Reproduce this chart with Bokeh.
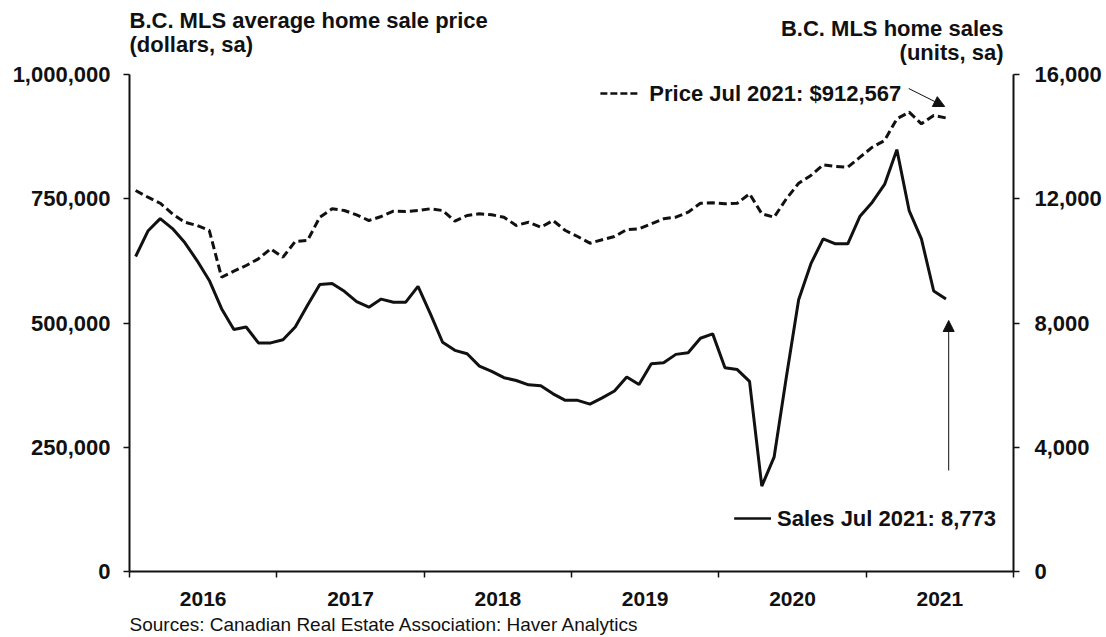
from bokeh.plotting import figure
from bokeh.models import (Range1d, LinearAxis, FixedTicker, NumeralTickFormatter,
                          Label, Arrow, NormalHead, Title)
from bokeh.embed import file_html
from bokeh.resources import INLINE

# ---- data (monthly, Jan 2016 .. Jul 2021) ----
start_year = 2016
n_months = 67
price = [766600, 753100, 741000, 719700, 702800, 696200, 686100, 592100, 604200, 615700, 629100, 649300,
         632400, 664000, 666000, 712900, 729800, 726300, 717700, 706200, 714300, 724900, 724300, 726300,
         729800, 726300, 704800, 716300, 719700, 717700, 712900, 696200, 702800, 692700, 706200, 686100,
         674000, 660600, 667400, 674000, 688100, 689500, 699600, 709700, 712900, 723000, 741000, 741900,
         739800, 741000, 759900, 719700, 712900, 749900, 781200, 796800, 818300, 814900, 813500, 833600,
         853700, 867200, 910800, 924200, 900800, 917500, 912567]
sales = [10140, 10960, 11360, 11040, 10590, 10010, 9370, 8460, 7790, 7870, 7360, 7360,
         7460, 7870, 8570, 9240, 9270, 9020, 8690, 8510, 8770, 8670, 8670, 9180,
         8300, 7380, 7120, 7010, 6610, 6440, 6240, 6150, 6010, 5980, 5720, 5510,
         5510, 5390, 5590, 5810, 6260, 6020, 6690, 6720, 6990, 7040, 7510, 7650,
         6560, 6500, 6120, 2750, 3680, 6260, 8750, 9910, 10710, 10550, 10550, 11440,
         11890, 12460, 13580, 11620, 10710, 9030, 8773]
years = ["2016", "2017", "2018", "2019", "2020", "2021"]
price_ticks = [0, 250000, 500000, 750000, 1000000]
sales_ticks = [0, 4000, 8000, 12000, 16000]
price_max = 1000000
sales_max = 16000

# x position: mid-month in fractional years
x = [start_year + (i + 0.5) / 12 for i in range(n_months)]

FONT = "Liberation Sans"
INK = "#111111"

# layout (pixels): frame spans from y=4 to y=571; value axes occupy 74..571
TOP_BORDER = 4
AXIS_TOP = 74
AXIS_BOTTOM = 571
H = 637
W = 1104
stretch = (AXIS_BOTTOM - TOP_BORDER) / (AXIS_BOTTOM - AXIS_TOP)

p = figure(width=W, height=H, output_backend="svg", toolbar_location=None,
           x_range=Range1d(2016, 2022), y_range=Range1d(0, price_max * stretch),
           min_border_left=129, min_border_right=W - 1015, min_border_top=TOP_BORDER,
           min_border_bottom=H - AXIS_BOTTOM)
p.outline_line_color = None
p.xgrid.visible = False
p.ygrid.visible = False
p.background_fill_color = "white"
p.border_fill_color = "white"

p.extra_y_ranges = {"sales": Range1d(0, sales_max * stretch)}

# lines
p.line(x, price, line_color=INK, line_width=3, line_dash="8 4")
p.line(x, sales, line_color=INK, line_width=3, y_range_name="sales")

# x axis
xa = p.xaxis[0]
mids = [int(y) + 0.5 for y in years]
xa.ticker = FixedTicker(ticks=mids, minor_ticks=[int(years[0]) + k for k in range(len(years) + 1)])
xa.major_label_overrides = {m: y for m, y in zip(mids, years)}
xa.major_tick_out = 0
xa.major_tick_in = 0
xa.minor_tick_out = 6
xa.minor_tick_in = 0
xa.minor_tick_line_width = 1.5
xa.minor_tick_line_color = INK
xa.axis_line_width = 2
xa.axis_line_color = INK
xa.major_label_standoff = 14
xa.major_label_text_font = FONT
xa.major_label_text_font_style = "bold"
xa.major_label_text_font_size = "21px"
xa.major_label_text_color = INK

# left axis
ya = p.yaxis[0]
ya.ticker = FixedTicker(ticks=price_ticks)
ya.bounds = (0, price_max)
ya.formatter = NumeralTickFormatter(format="0,0")
ya.minor_tick_line_color = None
ya.major_tick_out = 6
ya.major_tick_in = 0
ya.major_tick_line_width = 1.5
ya.major_tick_line_color = INK
ya.axis_line_width = 2
ya.axis_line_color = INK
ya.major_label_standoff = 13
ya.major_label_text_font = FONT
ya.major_label_text_font_style = "bold"
ya.major_label_text_font_size = "22px"
ya.major_label_text_color = INK

# right axis
ra = LinearAxis(y_range_name="sales", ticker=FixedTicker(ticks=sales_ticks),
                formatter=NumeralTickFormatter(format="0,0"), bounds=(0, sales_max))
ra.minor_tick_line_color = None
ra.major_tick_out = 6
ra.major_tick_in = 0
ra.major_tick_line_width = 1.5
ra.major_tick_line_color = INK
ra.axis_line_width = 2
ra.axis_line_color = INK
ra.major_label_standoff = 15
ra.major_label_text_font = FONT
ra.major_label_text_font_style = "bold"
ra.major_label_text_font_size = "22px"
ra.major_label_text_color = INK
p.add_layout(ra, "right")

# source line below the x axis
p.add_layout(Title(text="Sources: Canadian Real Estate Association: Haver Analytics",
                   align="left", text_font=FONT, text_font_style="normal",
                   text_font_size="19px", text_color=INK, standoff=6), "below")

def lab(txt, xx, yy, align="left", bold=True, size="22px"):
    p.add_layout(Label(x=xx, y=yy, text=txt, text_align=align, text_baseline="middle",
                       text_font=FONT, text_font_style="bold" if bold else "normal",
                       text_font_size=size, text_color=INK))

# axis titles (inside the stretched frame, above the value-axis tops)
lab("B.C. MLS average home sale price", 2016.0, 1108600)
lab("(dollars, sa)", 2016.0, 1060300)
lab("B.C. MLS home sales", 2021.932, 1092500, align="right")
lab("(units, sa)", 2021.932, 1044200, align="right")

# annotations
lab("Price Jul 2021: $912,567", 2019.528, 961800)
p.add_layout(Arrow(end=None, x_start=2019.196, y_start=961800, x_end=2019.460, y_end=961800,
                   line_color=INK, line_width=2.5, line_dash="7 3"))
p.add_layout(Arrow(end=NormalHead(size=11, fill_color=INK, line_color=INK),
                   x_start=2021.289, y_start=971800, x_end=2021.533, y_end=935600,
                   line_color=INK, line_width=1))

lab("Sales Jul 2021: 8,773", 2020.395, 106600)
p.add_layout(Arrow(end=None, x_start=2020.104, y_start=106600, x_end=2020.354, y_end=106600,
                   line_color=INK, line_width=2.5))
p.add_layout(Arrow(end=NormalHead(size=11, fill_color=INK, line_color=INK),
                   x_start=2021.56, y_start=203200, x_end=2021.56, y_end=505000,
                   line_color=INK, line_width=1))

open("out.html", "w").write(file_html(p, INLINE))
